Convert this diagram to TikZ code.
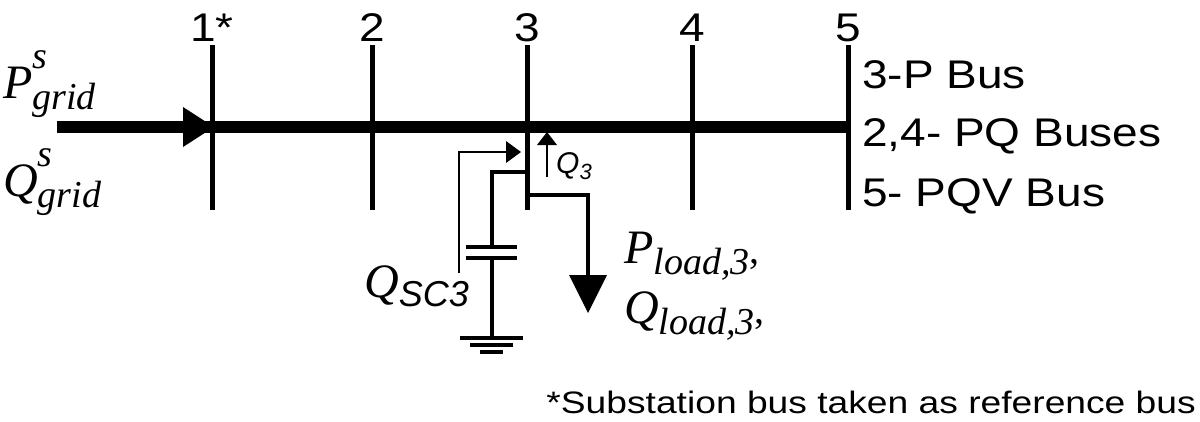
\documentclass[tikz,border=0pt]{standalone}
\usepackage{fontspec}
\setmainfont{Liberation Sans}
\newfontfamily\ser{Liberation Serif}
\usetikzlibrary{arrows.meta}
\newcommand\bigsym[3]{{\ser\itshape\fontsize{48}{50}\selectfont #1\fontsize{38}{40}\selectfont\rlap{\raisebox{0.8em}{#2}}\raisebox{-0.3em}{#3}}}
\newcommand\wide[2]{\scalebox{1.15}[1]{\fontsize{#1}{#1}\selectfont #2}}
\begin{document}
\begin{tikzpicture}[x=1pt,y=-1pt,
 bus/.style={line width=5pt},
 thin/.style={line width=3.5pt},
 lbl/.style={inner sep=0pt},
 mlbl/.style={inner sep=0pt}]
\useasboundingbox (0,0) rectangle (1200,421);
\coordinate (L) at (57,127); \coordinate (R) at (848,127);
\draw[line width=12pt] (L) -- (R);
\fill (183,107) -- (214,127) -- (183,147) -- cycle;
\foreach \x/\t in {212/1*,372/2,527/3,692/4,848/5}{
  \draw[bus] (\x,45) -- (\x,210);
  \node[lbl] at (\x,28) {\wide{40}{\t}};
}
% capacitor
\coordinate (c1) at (527,172);
\draw[thin] (c1) -- (492,172) -- (492,247);
\draw[line width=4pt] (466,247) -- (517,247) (466,258) -- (517,258);
\draw[thin] (492,258) -- (492,338);
\draw[line width=4pt] (460,338) -- (523,338) (470,345) -- (513,345) (480,352) -- (503,352);
% Qsc arrow
\draw[line width=2.5pt] (459,273) -- (459,152) -- (510,152);
\fill (506,141) -- (521,152) -- (506,163) -- cycle;
% Q3 arrow
\draw[line width=2.5pt] (547,177) -- (547,140);
\fill (537,145) -- (547,132) -- (557,145) -- cycle;
% load
\draw[thin] (527,195) -- (588,195) -- (588,285);
\fill (569,275) -- (607,275) -- (588,313) -- cycle;
% labels
\node[mlbl,anchor=west] at (3,84) {\bigsym{P}{s}{grid}};
\node[mlbl,anchor=west] at (3,182) {\bigsym{Q}{s}{grid}};
\node[mlbl,anchor=west] at (364,286) {{\ser\itshape\fontsize{48}{50}\selectfont Q\fontsize{36}{38}\selectfont\raisebox{-0.25em}{\fontspec{Liberation Sans}\itshape SC3}}};
\node[mlbl,anchor=west] at (624,256) {\bigsym{P}{}{load,3}{\ser\fontsize{40}{40}\selectfont,}};
\node[mlbl,anchor=west] at (624,316) {\bigsym{Q}{}{load,3}{\ser\fontsize{40}{40}\selectfont,}};
\node[inner sep=0pt,anchor=west] at (556,166) {{\fontsize{30}{32}\selectfont\itshape Q\fontsize{22}{24}\selectfont\raisebox{-0.25em}{3}}};
\node[lbl,anchor=west] at (862,75) {\wide{40}{3-P Bus}};
\node[lbl,anchor=west] at (862,136) {\wide{40}{2,4- PQ Buses}};
\node[lbl,anchor=west] at (862,196) {\wide{40}{5- PQV Bus}};
\node[inner sep=0pt,anchor=east] at (1196,402) {\scalebox{1.2}[1]{\fontsize{31}{32}\selectfont *Substation bus taken as reference bus}};
\end{tikzpicture}
\end{document}
